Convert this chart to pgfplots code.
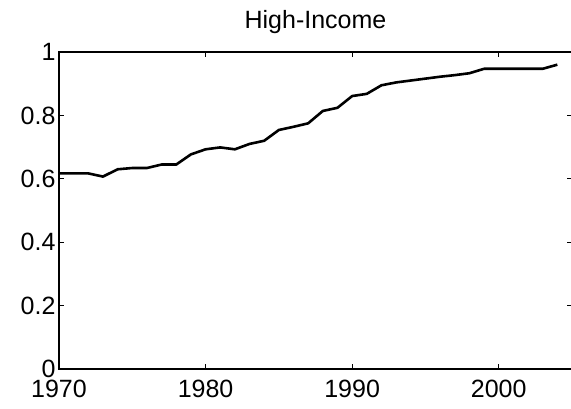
\documentclass[border=0pt]{standalone}
\usepackage{fontspec}
\setmainfont{Liberation Sans}
\usepackage{pgfplots}
\pgfplotsset{compat=1.18}
\begin{document}
\begin{tikzpicture}
\path[use as bounding box] (0,0) rectangle (571pt,409pt);
\begin{axis}[
  at={(59pt,40pt)}, anchor=south west,
  scale only axis, width=513pt, height=317pt,
  xmin=1970, xmax=2005, ymin=0, ymax=1,
  xtick={1970,1980,1990,2000},
  ytick={0,0.2,0.4,0.6,0.8,1},
  /pgf/number format/assume math mode=true,
  /pgf/number format/1000 sep={},
  tick label style={font=\fontsize{25}{30}\selectfont, text=black},
  xticklabel style={yshift=-8pt},
  tick align=inside,
  major tick length=5pt,
  tick style={black, line width=1pt},
  axis line style={black, line width=1.6pt},
  title={High-Income},
  title style={font=\fontsize{25}{30}\selectfont, at={(0.5,1)}, anchor=base, yshift=17pt},
]
\addplot[black, line width=2.6pt, line join=round] coordinates {
(1970,0.617) (1971,0.617) (1972,0.617) (1973,0.607) (1974,0.630)
(1975,0.634) (1976,0.634) (1977,0.645) (1978,0.645) (1979,0.677)
(1980,0.693) (1981,0.699) (1982,0.693) (1983,0.710) (1984,0.720)
(1985,0.754) (1986,0.764) (1987,0.775) (1988,0.814) (1989,0.824)
(1990,0.861) (1991,0.868) (1992,0.895) (1993,0.904) (1994,0.910)
(1995,0.916) (1996,0.922) (1997,0.927) (1998,0.933) (1999,0.947)
(2000,0.947) (2001,0.947) (2002,0.947) (2003,0.947) (2004,0.960)
};
\end{axis}
\end{tikzpicture}
\end{document}
